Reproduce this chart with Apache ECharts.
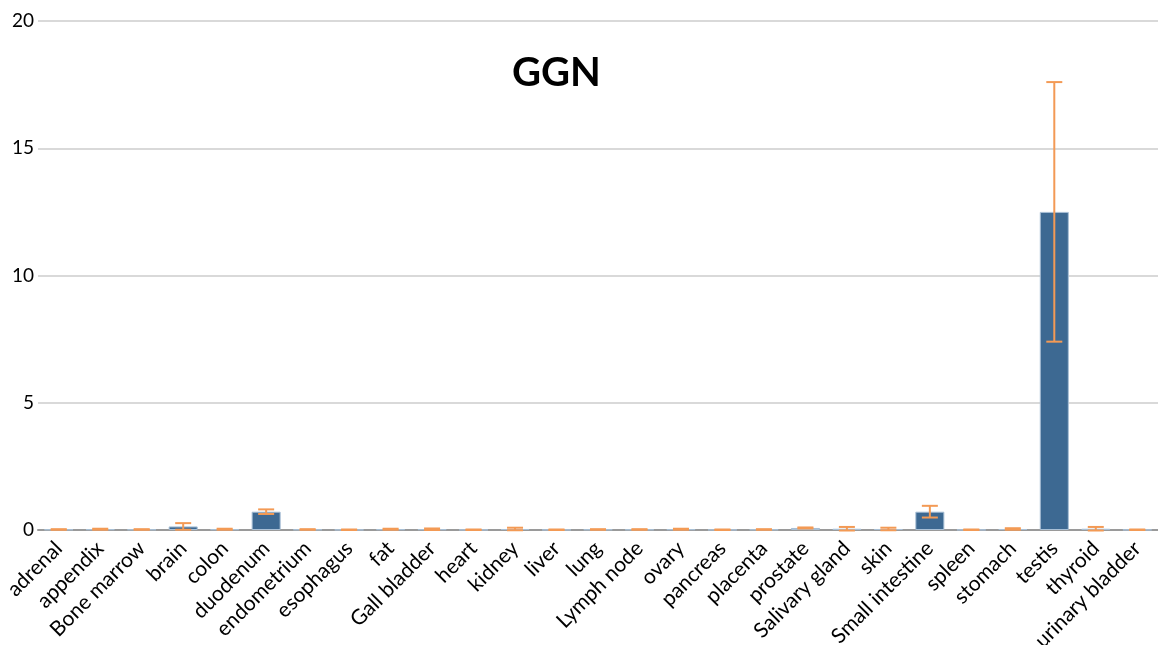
<!DOCTYPE html>
<html>
<head>
<meta charset="utf-8">
<script src="https://cdn.jsdelivr.net/npm/echarts@6/dist/echarts.min.js"></script>
<style>
  html, body { margin: 0; padding: 0; background: #fff; }
  #chart { width: 1158px; height: 645px; }
</style>
</head>
<body>
<div id="chart"></div>
<script>
// tissue names along the x axis
let tissues = ['adrenal', 'appendix', 'Bone marrow', 'brain', 'colon', 'duodenum', 'endometrium',
    'esophagus', 'fat', 'Gall bladder', 'heart', 'kidney', 'liver', 'lung', 'Lymph node', 'ovary',
    'pancreas', 'placenta', 'prostate', 'Salivary gland', 'skin', 'Small intestine', 'spleen',
    'stomach', 'testis', 'thyroid', 'urinary bladder'];

// mean expression per tissue
let means = [0.02, 0.03, 0.02, 0.14, 0.03, 0.72, 0.02,
    0.01, 0.03, 0.03, 0.01, 0.04, 0.01, 0.02, 0.02, 0.03,
    0.01, 0.02, 0.08, 0.05, 0.04, 0.72, 0.01,
    0.04, 12.5, 0.05, 0.01];

// error (+/-) per tissue
let errors = [0.01, 0.02, 0.01, 0.13, 0.02, 0.09, 0.01,
    0.01, 0.02, 0.03, 0.01, 0.05, 0.01, 0.01, 0.01, 0.02,
    0.01, 0.01, 0.02, 0.07, 0.05, 0.23, 0.01,
    0.03, 5.1, 0.07, 0.01];

let y_ticks = [0, 5, 10, 15, 20];

document.addEventListener("DOMContentLoaded", () => {
    draw_chart();
});

function draw_chart() {
    var err_data = [];
    tissues.forEach(function (name, i) {
        err_data.push([i, means[i] - errors[i], means[i] + errors[i]]);
    });

    var font = 'Lato, "Open Sans", sans-serif';

    echarts.init(document.querySelector("#chart")).setOption({
        animation: false,
        title: {
            text: 'GGN',
            left: 507,
            top: 48,
            textStyle: { fontFamily: font, fontSize: 40, fontWeight: 'bold', color: '#000' }
        },
        grid: { left: 38, right: 0, top: 21, bottom: 115, containLabel: false, outerBoundsMode: 'none' },
        xAxis: {
            type: 'category',
            data: tissues,
            axisLine: { lineStyle: { color: '#9a9a9a', width: 2 } },
            axisTick: { show: false },
            axisLabel: {
                rotate: 45,
                interval: 0,
                margin: 15,
                color: '#000',
                fontFamily: font,
                fontSize: 21
            }
        },
        yAxis: {
            type: 'value',
            min: y_ticks[0],
            max: y_ticks[y_ticks.length - 1],
            interval: 5,
            axisLine: { show: false },
            axisTick: { show: false },
            axisLabel: { color: '#000', fontFamily: font, fontSize: 19, margin: 4 },
            splitLine: { lineStyle: { color: '#d9d9d9', width: 2 } }
        },
        series: [{
            name: 'mean',
            type: 'bar',
            data: means,
            barCategoryGap: '30%',
            itemStyle: { color: '#3d6992', borderColor: '#a9c0d6', borderWidth: 1 }
        }, {
            name: 'error',
            type: 'custom',
            data: err_data,
            z: 5,
            renderItem: function (params, api) {
                var x = api.value(0);
                var lo = api.coord([x, api.value(1)]);
                var hi = api.coord([x, api.value(2)]);
                var half = 8;
                var style = { stroke: '#f39a55', lineWidth: 2 };
                return {
                    type: 'group',
                    children: [
                        { type: 'line', shape: { x1: hi[0], y1: hi[1], x2: lo[0], y2: lo[1] }, style: style },
                        { type: 'line', shape: { x1: hi[0] - half, y1: hi[1], x2: hi[0] + half, y2: hi[1] }, style: style },
                        { type: 'line', shape: { x1: lo[0] - half, y1: lo[1], x2: lo[0] + half, y2: lo[1] }, style: style }
                    ]
                };
            }
        }]
    });
}
</script>
</body>
</html>
